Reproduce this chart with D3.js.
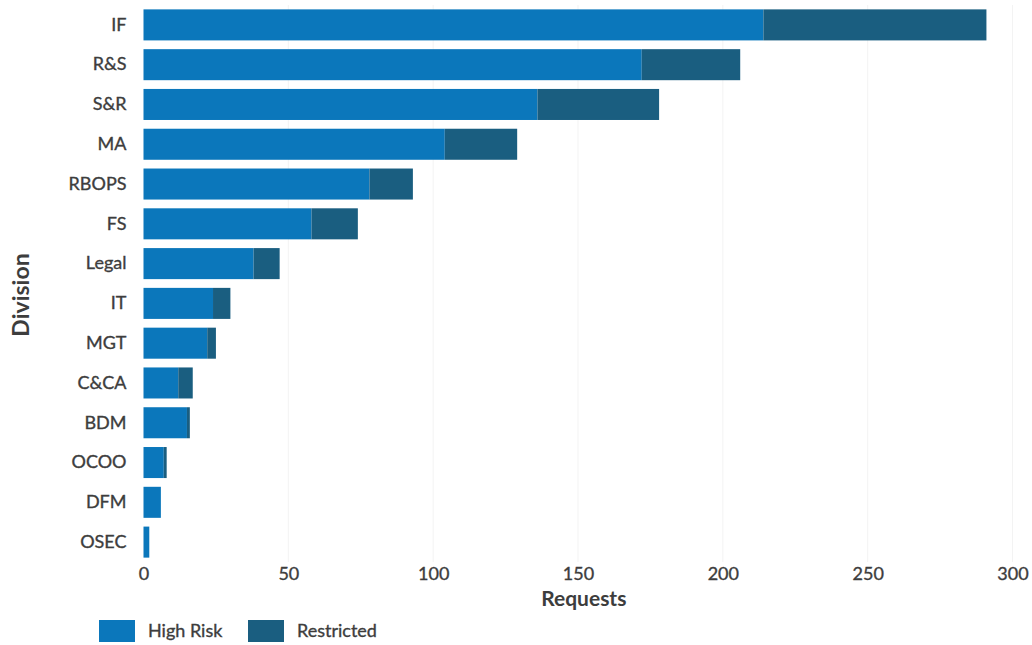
<!DOCTYPE html>
<html>
<head>
<meta charset="utf-8">
<script src="https://cdn.jsdelivr.net/npm/d3@7"></script>
<style>
  body { margin: 0; background: #fff; }
  text { font-family: Lato, "Open Sans", sans-serif; fill: #3d3d3d; }
  .lbl { stroke: #3d3d3d; stroke-width: 0.35px; }
</style>
</head>
<body>
<svg id="chart" width="1032" height="645"></svg>
<script>
// division names, top to bottom
const divisions = ['IF', 'R&S', 'S&R', 'MA', 'RBOPS', 'FS', 'Legal', 'IT', 'MGT', 'C&CA', 'BDM', 'OCOO', 'DFM', 'OSEC']
const highRisk = [214, 172, 136, 104, 78, 58, 38, 24, 22, 12, 15, 7, 6, 2]
const restricted = [77, 34, 42, 25, 15, 16, 9, 6, 3, 5, 1, 1, 0, 0]
const seriesNames = ['High Risk', 'Restricted']
const colors = ['#0b77bb', '#1a5e80']
const xTicks = [0, 50, 100, 150, 200, 250, 300]

const svg = d3.select('#chart')
const margin = {top: 5, left: 143.5, right: 19.5, bottom: 83}
const width = 1032 - margin.left - margin.right
const height = 645 - margin.top - margin.bottom

const rows = divisions.map((d, i) => ({division: d, 'High Risk': highRisk[i], 'Restricted': restricted[i]}))
const stacked = d3.stack().keys(seriesNames)(rows)

const x = d3.scaleLinear().domain([0, 300]).range([0, width])
const y = d3.scaleBand().domain(divisions).range([0, height]).paddingInner(0.22).paddingOuter(0.11)
const color = d3.scaleOrdinal().domain(seriesNames).range(colors)

const g = svg.append('g').attr('transform', `translate(${margin.left},${margin.top})`)

// faint vertical grid
g.append('g')
  .selectAll('line')
  .data(xTicks.slice(1))
  .enter().append('line')
  .attr('x1', d => x(d)).attr('x2', d => x(d))
  .attr('y1', 0).attr('y2', height)
  .attr('stroke', '#f3f3f3')

// stacked bars
g.append('g')
  .selectAll('g')
  .data(stacked)
  .enter().append('g')
  .attr('fill', d => color(d.key))
  .selectAll('rect')
  .data(d => d)
  .enter().append('rect')
  .attr('x', d => x(d[0]))
  .attr('y', d => y(d.data.division))
  .attr('width', d => Math.max(0, x(d[1]) - x(d[0])))
  .attr('height', y.bandwidth())

// y axis labels
const yAxis = g.append('g').call(d3.axisLeft(y).tickSize(0).tickPadding(17))
yAxis.select('.domain').remove()
yAxis.selectAll('text').attr('class', 'lbl').style('font-size', '18px').attr('fill', '#3d3d3d')

// x axis labels
const xAxis = g.append('g')
  .attr('transform', `translate(0,${height})`)
  .call(d3.axisBottom(x).tickValues(xTicks).tickSize(0).tickPadding(5))
xAxis.select('.domain').remove()
xAxis.selectAll('text').attr('class', 'lbl').style('font-size', '18px').attr('fill', '#3d3d3d')

// axis titles
svg.append('text')
  .attr('x', margin.left + x(152))
  .attr('y', 606)
  .attr('text-anchor', 'middle')
  .style('font-size', '21px')
  .style('font-weight', 'bold')
  .text('Requests')

svg.append('text')
  .attr('transform', 'translate(29,295) rotate(-90)')
  .attr('text-anchor', 'middle')
  .style('font-size', '23px')
  .style('font-weight', 'bold')
  .text('Division')

// legend
const legendX = [99, 248]
const legend = svg.append('g')
  .selectAll('g')
  .data(seriesNames)
  .enter().append('g')
  .attr('transform', (d, i) => `translate(${legendX[i]},620)`)
legend.append('rect')
  .attr('width', 36).attr('height', 22)
  .attr('fill', d => color(d))
legend.append('text')
  .attr('class', 'lbl')
  .attr('x', 49).attr('y', 17)
  .style('font-size', '18px')
  .text(d => d)
</script>
</body>
</html>
